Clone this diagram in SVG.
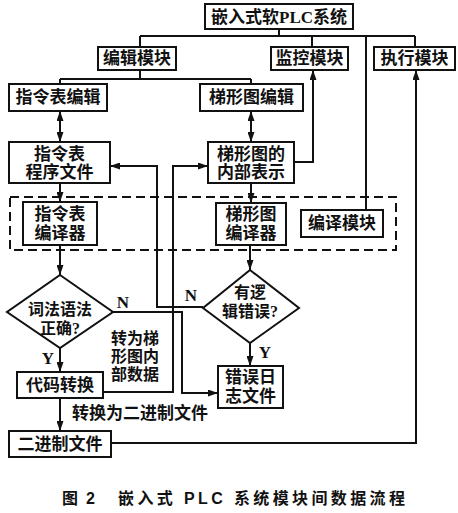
<svg xmlns="http://www.w3.org/2000/svg" width="458" height="513" viewBox="0 0 458 513">
<style>
.b{fill:#fff;stroke:#111;stroke-width:2}
.t{font-family:"Liberation Serif","Noto Sans CJK SC",serif;font-size:17px;font-weight:bold;fill:#111;text-anchor:middle;dominant-baseline:central}
.s{font-size:16px}
.c{fill:none;stroke:#111;stroke-width:2}
.d{fill:none;stroke:#111;stroke-width:2;stroke-dasharray:9 5}
.cap{font-family:"Liberation Sans","Noto Sans CJK SC",sans-serif;font-size:16px;font-weight:bold;fill:#111;dominant-baseline:central}
</style>
<defs>
<marker id="a" markerUnits="userSpaceOnUse" markerWidth="10" markerHeight="7" refX="10" refY="3.5" orient="auto-start-reverse">
<path d="M0,0 L10,3.5 L0,7 z" fill="#111"/>
</marker>
</defs>
<rect width="458" height="513" fill="#fff"/>
<g id="connectors">
<path class="c" d="M279,29V36M140,36H415M140,36V47M312,36V47M415,36V47M366,36V210"/>
<path class="c" d="M140,70V79M60,79H251M60,79V84M251,79V84"/>
<path class="c" d="M60,111V142" marker-start="url(#a)" marker-end="url(#a)"/>
<path class="c" d="M251,111V142" marker-start="url(#a)" marker-end="url(#a)"/>
<path class="c" d="M60,183V202" marker-end="url(#a)"/>
<path class="c" d="M251,183V203" marker-end="url(#a)"/>
<path class="c" d="M294,162H313V70" marker-end="url(#a)"/>
<path class="c" d="M60,245V275" marker-end="url(#a)"/>
<path class="c" d="M250,245V270" marker-end="url(#a)"/>
<path class="c" d="M60,348V372" marker-end="url(#a)"/>
<path class="c" d="M250,343V366" marker-end="url(#a)"/>
<path class="c" d="M113,312H182V393H218" marker-end="url(#a)"/>
<path class="c" d="M203,307H157V166H110" marker-end="url(#a)"/>
<path class="c" d="M103,392H173V166H208" marker-end="url(#a)"/>
<path class="c" d="M60,398V431" marker-end="url(#a)"/>
<path class="c" d="M111,443H416V70" marker-end="url(#a)"/>
<text class="t" x="123" y="302">N</text>
<text class="t" x="191" y="295">N</text>
<text class="t" x="48" y="358">Y</text>
<text class="t" x="265" y="352">Y</text>
<text class="t s" x="135" y="338">转为梯</text>
<text class="t s" x="135" y="356">形图内</text>
<text class="t s" x="135" y="374">部数据</text>
<text class="t" x="140" y="413">转换为二进制文件</text>
</g>
<g id="compile-area"><rect class="d" x="10" y="197" width="386" height="53"/></g>
<g id="n-root"><rect class="b" x="205" y="4" width="148" height="25"/><text class="t" x="279" y="17">嵌入式软PLC系统</text></g>
<g id="n-edit"><rect class="b" x="98" y="47" width="78" height="23"/><text class="t" x="137" y="58.5">编辑模块</text></g>
<g id="n-monitor"><rect class="b" x="271" y="47" width="77" height="23"/><text class="t" x="309.5" y="58.5">监控模块</text></g>
<g id="n-exec"><rect class="b" x="374" y="47" width="81" height="23"/><text class="t" x="414.5" y="58.5">执行模块</text></g>
<g id="n-il-edit"><rect class="b" x="9" y="84" width="98" height="27"/><text class="t" x="58" y="97.5">指令表编辑</text></g>
<g id="n-ld-edit"><rect class="b" x="200" y="84" width="103" height="27"/><text class="t" x="251.5" y="97.5">梯形图编辑</text></g>
<g id="n-il-file"><rect class="b" x="9" y="142" width="101" height="41"/><text class="t" x="59.5" y="154">指令表</text><text class="t" x="59.5" y="172">程序文件</text></g>
<g id="n-ld-internal"><rect class="b" x="208" y="142" width="86" height="41"/><text class="t" x="251" y="154">梯形图的</text><text class="t" x="251" y="172">内部表示</text></g>
<g id="n-il-compiler"><rect class="b" x="23" y="202" width="74" height="43"/><text class="t" x="60" y="214">指令表</text><text class="t" x="60" y="233">编译器</text></g>
<g id="n-ld-compiler"><rect class="b" x="216" y="203" width="70" height="42"/><text class="t" x="251" y="214.5">梯形图</text><text class="t" x="251" y="233">编译器</text></g>
<g id="n-compile"><rect class="b" x="301" y="210" width="82" height="27"/><text class="t" x="342" y="223.5">编译模块</text></g>
<g id="n-lex"><polygon class="b" points="60,275 113,312 60,348 7,312"/><text class="t s" x="60" y="309">词法语法</text><text class="t s" x="60" y="328">正确?</text></g>
<g id="n-logic"><polygon class="b" points="250,270 299,308 250,343 203,308"/><text class="t s" x="250" y="292">有逻</text><text class="t s" x="250" y="311">辑错误?</text></g>
<g id="n-convert"><rect class="b" x="17" y="372" width="86" height="26"/><text class="t" x="60" y="385">代码转换</text></g>
<g id="n-errlog"><rect class="b" x="218" y="366" width="65" height="42"/><text class="t" x="250.5" y="377">错误日</text><text class="t" x="250.5" y="396">志文件</text></g>
<g id="n-bin"><rect class="b" x="9" y="431" width="102" height="26"/><text class="t" x="60" y="444">二进制文件</text></g>
<text class="cap" x="62" y="498" textLength="33" lengthAdjust="spacing">图 2</text>
<text class="cap" x="118" y="498" textLength="287" lengthAdjust="spacing">嵌入式 PLC 系统模块间数据流程</text>
</svg>
